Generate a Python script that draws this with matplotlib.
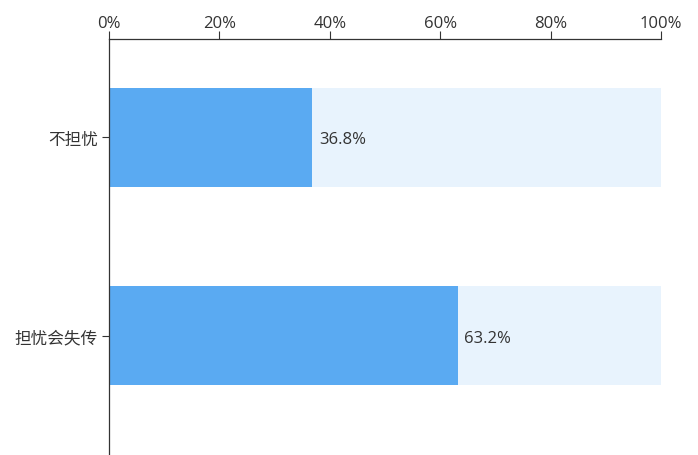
import matplotlib.pyplot as plt
from matplotlib.ticker import FuncFormatter

plt.rcParams['font.family'] = ['Open Sans', 'Noto Sans CJK SC', 'DejaVu Sans']

categories = ['不担忧', '担忧会失传']
values = [36.8, 63.2]
x_ticks = [0, 20, 40, 60, 80, 100]

W, H = 698, 456
fig = plt.figure(figsize=(W / 100, H / 100), dpi=100)
# axes in pixel coordinates: left 109, right 661, top 40, bottom past the figure
left, right, top, bottom = 109, 661, 40, 476
ax = fig.add_axes([left / W, 1 - bottom / H, (right - left) / W, (bottom - top) / H])

pos = list(range(len(categories)))
ax.barh(pos, [100] * len(values), height=0.5, color='#e8f3fd', zorder=1)
ax.barh(pos, values, height=0.5, color='#5aaaf2', zorder=2)
for p, v in zip(pos, values):
    ax.text(v + 1.2, p + 0.01, f'{v:.1f}%', va='center', ha='left',
            fontsize=12, color='#333333')

ax.set_xlim(0, 100)
ax.set_ylim(1.704, -0.497)
ax.set_yticks(pos)
ax.set_yticklabels(categories, fontsize=12, color='#333333',
                   family=['Noto Sans CJK SC', 'DejaVu Sans'])
ax.set_xticks(x_ticks)
ax.xaxis.set_major_formatter(FuncFormatter(lambda v, _: f'{v:.0f}%'))
ax.xaxis.tick_top()
ax.tick_params(axis='x', direction='out', length=6, width=0.8, colors='#333333',
               labelsize=12, pad=0)
ax.tick_params(axis='y', direction='out', length=5, width=0.8, colors='#333333', pad=3)

for s in ['right', 'bottom']:
    ax.spines[s].set_visible(False)
for s in ['top', 'left']:
    ax.spines[s].set_color('#333333')
    ax.spines[s].set_linewidth(0.9)

fig.savefig('out.png', dpi=100)
